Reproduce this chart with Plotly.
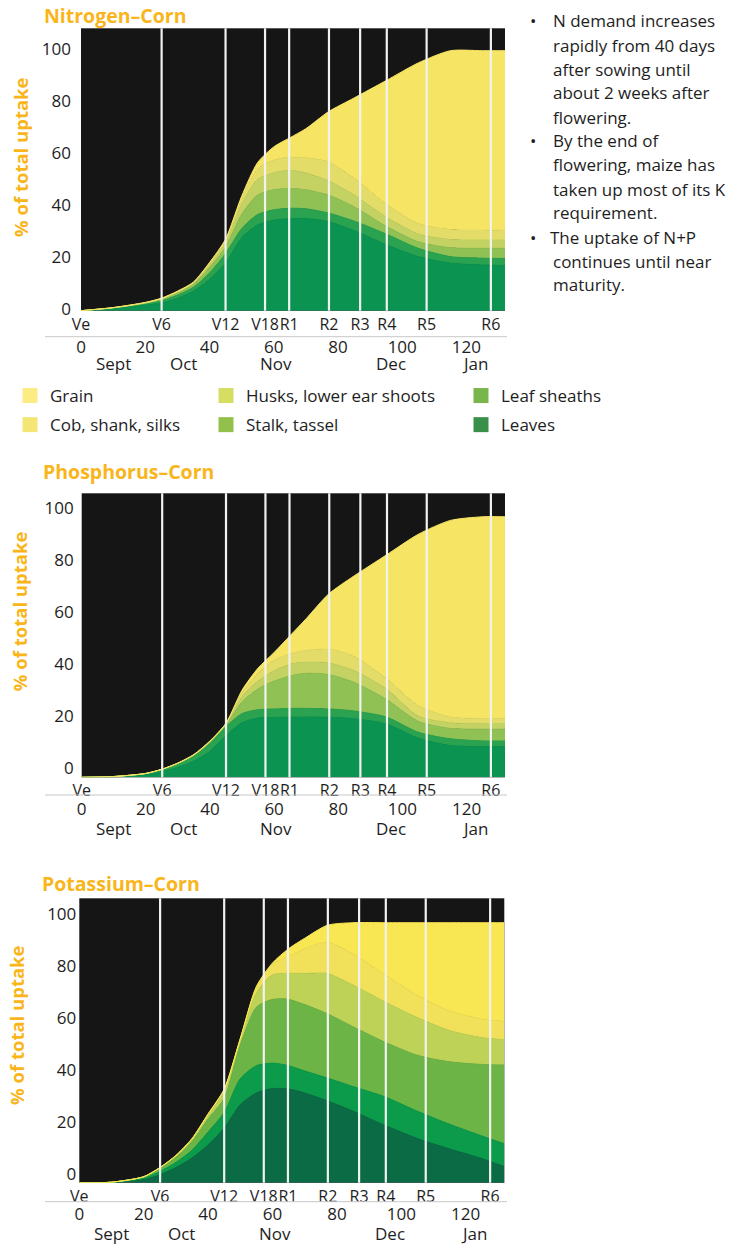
import plotly.graph_objects as go

W, H = 741, 1245
FONT = "Open Sans"
ORANGE = "#F9B51A"
TXT = "#1e1e1e"

# ---------------- data ----------------
days = [0, 10, 20, 25, 30, 35, 40, 45, 50, 55, 60, 65, 70, 77, 85, 95, 105, 115, 125, 132]

organs = ["Leaves", "Leaf sheaths", "Stalk, tassel",
          "Husks, lower ear shoots", "Cob, shank, silks", "Grain"]

# Nitrogen: % of total uptake held in each organ
n_leaves  = [0, 0.8, 2.2, 3.0, 4.8, 7.5, 12, 18.3, 28, 33, 34.8, 35.4, 35.5, 34.3, 30.8, 25.4, 20.8, 18.3, 17.6, 17.4]
n_sheaths = [0, 0.2, 0.5, 0.8, 1.2, 1.5, 2.5, 3.7, 3.5, 4.0, 4.0, 4.0, 3.7, 3.3, 3.7, 4.1, 3.2, 2.5, 2.6, 2.7]
n_stalk   = [0, 0.1, 0.2, 0.5, 0.8, 1.0, 2.0, 2.5, 5.5, 7.5, 7.7, 7.6, 7.3, 6.9, 5.5, 3.0, 2.5, 3.4, 3.8, 3.9]
n_husks   = [0, 0.05, 0.1, 0.2, 0.3, 0.5, 1.0, 1.5, 4.0, 6.0, 6.5, 7.0, 6.5, 5.5, 4.5, 3.5, 3.0, 3.2, 3.2, 3.2]
n_cob     = [0, 0.05, 0.1, 0.2, 0.2, 0.3, 0.7, 1.0, 2.0, 4.0, 5.0, 5.0, 5.8, 7.3, 6.5, 5.0, 4.0, 3.8, 3.8, 3.8]
n_grain   = [0, 0, 0.1, 0.1, 0.2, 0.2, 0.3, 0.5, 1.0, 2.5, 5.0, 7.5, 11.2, 19.2, 30.8, 47.5, 61.8, 68.8, 69, 69]

# Phosphorus
p_leaves  = [0, 0.2, 1.0, 2.2, 3.8, 6.3, 10, 16, 21, 22.8, 23, 23.1, 23.2, 23.1, 22.5, 20.5, 15, 12.2, 11.8, 11.8]
p_sheaths = [0, 0.1, 0.4, 0.8, 1.4, 2.0, 3.0, 3.5, 3.5, 3.2, 3.3, 3.4, 3.3, 3.2, 3.0, 2.7, 2.3, 2.6, 2.2, 2.2]
p_stalk   = [0, 0, 0.05, 0.05, 0.15, 0.2, 0.5, 0.7, 4.5, 8, 10.7, 12.5, 13.5, 13.2, 11, 6.8, 4.2, 4.0, 4.5, 4.5]
p_husks   = [0, 0, 0.03, 0.03, 0.05, 0.1, 0.2, 0.3, 2.0, 3.0, 4.0, 4.5, 4.3, 4.5, 4.5, 4.0, 2.0, 2.2, 2.2, 2.2]
p_cob     = [0, 0, 0.02, 0.02, 0.05, 0.1, 0.2, 0.2, 1.5, 3.0, 4.0, 4.0, 4.5, 5.3, 5.5, 4.0, 4.0, 2.2, 1.9, 1.8]
p_grain   = [0, 0, 0, 0, 0.05, 0.1, 0.1, 0.1, 1.0, 2.0, 3.0, 7.0, 12.2, 21.2, 31, 47.5, 66, 75.6, 77.6, 77.7]

# Potassium
k_leaves  = [0, 0.1, 1.2, 3.0, 5.8, 9.5, 14.5, 21, 30, 34.5, 36.2, 36, 34.5, 31.5, 27.5, 22, 17, 13, 9.3, 6.2]
k_sheaths = [0, 0.05, 0.5, 1.3, 2.0, 3.0, 5.0, 6.0, 10, 10.5, 9.8, 9.0, 8.5, 8.8, 9.5, 11, 10.5, 9.5, 8.7, 8.8]
k_stalk   = [0, 0.05, 0.5, 1.1, 1.9, 3.3, 5.0, 5.5, 13, 22.5, 24.5, 25.5, 25.5, 24.7, 23, 21, 21.5, 24, 27.5, 30.3]
k_husks   = [0, 0, 0.1, 0.3, 0.6, 0.8, 1.3, 2.8, 2.0, 5.5, 9.5, 10, 12, 15.5, 16, 15.5, 14.5, 12, 10.3, 9.7]
k_cob     = [0, 0, 0, 0.1, 0.1, 0.3, 0.5, 0.5, 0.3, 2.0, 4.0, 6.5, 9.5, 12, 12, 10.5, 8.5, 7.5, 7.2, 7]
k_grain   = [0, 0, 0, 0, 0.1, 0.1, 0.2, 0.2, 0.2, 0.5, 0.5, 3.0, 4.0, 6.5, 12, 20, 28, 34, 37, 38]

stage_names = ["Ve", "V6", "V12", "V18", "R1", "R2", "R3", "R4", "R5", "R6"]
stage_days = [0, 25.1, 45.0, 57.3, 64.8, 77.2, 86.9, 95.2, 107.6, 127.6]

day_ticks = [0, 20, 40, 60, 80, 100, 120]
month_names = ["Sept", "Oct", "Nov", "Dec", "Jan"]
month_days = [10, 31.8, 60.7, 96.5, 122.7]
y_ticks = [0, 20, 40, 60, 80, 100]

legend_cols = [
    ["Grain", "Cob, shank, silks"],
    ["Husks, lower ear shoots", "Stalk, tassel"],
    ["Leaf sheaths", "Leaves"],
]
legend_colors = {
    "Grain": "#fcec84", "Cob, shank, silks": "#f3e674",
    "Husks, lower ear shoots": "#d5dd63", "Stalk, tassel": "#93bf4b",
    "Leaf sheaths": "#78b54b", "Leaves": "#3a8f4b",
}

bullets = [
    ["N demand increases", "rapidly from 40 days", "after sowing until",
     "about 2 weeks after", "flowering."],
    ["By the end of", "flowering, maize has", "taken up most of its K",
     "requirement."],
    ["The uptake of N+P", "continues until near", "maturity."],
]

NP_COLORS = ["#0b9352", "#2aa24f", "#8fc155", "#c3d262", "#e4dc68", "#f6e565"]
K_COLORS = ["#0b6b45", "#0c9a4b", "#6cb446", "#bed257", "#f1e05a", "#f9e653"]

charts = [
    dict(title="Nitrogen–Corn",
         vals=[n_leaves, n_sheaths, n_stalk, n_husks, n_cob, n_grain],
         colors=NP_COLORS, box=(81, 505, 28.3, 310.7), shift=-2, ystand=9,
         rule=336.7, numpos=335, month_y=363, title_xy=(45, 15), ytitle_xy=(21, 157)),
    dict(title="Phosphorus–Corn",
         vals=[p_leaves, p_sheaths, p_stalk, p_husks, p_cob, p_grain],
         colors=NP_COLORS, box=(81.7, 505, 493.3, 777.3), shift=-9, ystand=7,
         rule=795, numpos=797, month_y=828.3, title_xy=(44, 471.7), ytitle_xy=(19.5, 611.7)),
    dict(title="Potassium–Corn",
         vals=[k_leaves, k_sheaths, k_stalk, k_husks, k_cob, k_grain],
         colors=K_COLORS, box=(79.3, 504.3, 898.3, 1182.7), shift=-9, ystand=2,
         rule=1201.7, numpos=1202, month_y=1233.3, title_xy=(43, 883.3), ytitle_xy=(16, 1025)),
]

PXU = 2.6  # pixels per % unit

fig = go.Figure()
layout = dict(width=W, height=H,
              margin=dict(l=0, r=0, t=0, b=0, pad=0, autoexpand=False),
              paper_bgcolor="white", plot_bgcolor="#151515",
              font=dict(family=FONT, color=TXT, size=17),
              showlegend=True)
shapes = []
annotations = []
tickfont = dict(family=FONT, size=17, color=TXT)
stagefont = dict(family=FONT, size=16, color=TXT)

for i, ch in enumerate(charts, start=1):
    sx = "" if i == 1 else str(i)
    xa, ya = "x" + sx, "y" + sx
    x0, x1, y0, y1 = ch["box"]
    ymax = (y1 - y0) / PXU
    for organ, vals, color in zip(organs, ch["vals"], ch["colors"]):
        fig.add_trace(go.Scatter(
            x=days, y=vals, xaxis=xa, yaxis=ya, stackgroup="s" + str(i),
            mode="lines", name=organ, showlegend=False, hoverinfo="skip",
            line=dict(width=1, shape="spline", smoothing=0.7, color=color),
            fillcolor=color))
    layout["xaxis" + sx] = dict(
        domain=[x0 / W, x1 / W], range=[0, 132], anchor=ya, automargin=False,
        tickmode="array", tickvals=stage_days, ticktext=stage_names,
        tickangle=0, ticks="", showgrid=False, zeroline=False, showline=False,
        tickfont=stagefont, ticklabelstandoff=2)
    layout["yaxis" + sx] = dict(
        domain=[1 - y1 / H, 1 - y0 / H], range=[0, ymax], anchor=xa,
        automargin=False, tickmode="array", tickvals=y_ticks, ticks="",
        showgrid=False, zeroline=False, showline=False, tickfont=tickfont,
        ticklabelshift=ch["shift"], ticklabelstandoff=ch["ystand"])
    # numeric day axis below the stage labels
    nx = str(i + 3)
    layout["xaxis" + nx] = dict(
        overlaying=xa, anchor="free", position=1 - ch["numpos"] / H,
        side="bottom", range=[0, 132], tickmode="array", tickvals=day_ticks,
        tickangle=0, ticks="", showgrid=False, zeroline=False, showline=False,
        automargin=False, tickfont=tickfont)
    fig.add_trace(go.Scatter(x=[None], y=[None], xaxis="x" + nx, yaxis=ya,
                             showlegend=False, hoverinfo="skip"))
    # stage lines
    for d in stage_days[1:]:
        shapes.append(dict(type="line", xref=xa, yref=ya + " domain",
                           x0=d, x1=d, y0=0, y1=1, layer="above",
                           line=dict(color="#f2f2f2", width=2.2)))
    shapes.append(dict(type="line", xref="paper", yref="paper",
                       x0=45 / W, x1=507 / W, y0=1 - ch["rule"] / H, y1=1 - ch["rule"] / H,
                       line=dict(color="#c8c8c8", width=1)))
    for name, d in zip(month_names, month_days):
        annotations.append(dict(x=d, xref=xa, y=1 - ch["month_y"] / H, yref="paper",
                                text=name, showarrow=False, font=tickfont,
                                xanchor="center", yanchor="middle"))
    tx, ty = ch["title_xy"]
    annotations.append(dict(x=(tx - 3) / W, y=1 - ty / H, xref="paper", yref="paper",
                            text="<b>" + ch["title"] + "</b>", showarrow=False,
                            xanchor="left", yanchor="middle",
                            font=dict(family=FONT, size=19.5, color=ORANGE)))
    yx, yy = ch["ytitle_xy"]
    annotations.append(dict(x=yx / W, y=1 - yy / H, xref="paper", yref="paper",
                            text="<b>% of total uptake</b>", textangle=-90,
                            showarrow=False, xanchor="center", yanchor="middle",
                            font=dict(family=FONT, size=18.5, color=ORANGE)))

# legend: three small legends, one per column
leg_x = [10, 206, 461]
for c, (names, lx) in enumerate(zip(legend_cols, leg_x)):
    lkey = "legend" if c == 0 else "legend" + str(c + 1)
    for nm in names:
        fig.add_trace(go.Scatter(
            x=[None], y=[None], mode="markers", name=nm, legend=lkey,
            legendgroup=nm,
            marker=dict(symbol="square", size=15, color=legend_colors[nm]),
            hoverinfo="skip", showlegend=True))
    layout[lkey] = dict(x=lx / W, y=1 - 378 / H, xanchor="left", yanchor="top",
                        bgcolor="rgba(0,0,0,0)", tracegroupgap=4,
                        traceorder="grouped",
                        font=dict(family=FONT, size=17, color=TXT),
                        itemclick=False, itemdoubleclick=False)

# bullet notes
line_no = 0
for bi, b in enumerate(bullets):
    for j, txt in enumerate(b):
        yc = 21 + 24 * line_no
        if j == 0:
            annotations.append(dict(x=533 / W, y=1 - yc / H, xref="paper", yref="paper",
                                    text="•", showarrow=False, xanchor="center",
                                    yanchor="middle", font=dict(family=FONT, size=17, color=TXT)))
        tx = 548 if (bi == 2 and j == 0) else 551
        annotations.append(dict(x=tx / W, y=1 - yc / H, xref="paper", yref="paper",
                                text=txt, showarrow=False, xanchor="left",
                                yanchor="middle",
                                font=dict(family=FONT, size=17, color=TXT)))
        line_no += 1

layout["shapes"] = shapes
layout["annotations"] = annotations
fig.update_layout(**layout)
fig.write_html("out.html",
               config={"displayModeBar": False, "staticPlot": True},
               post_script="document.body.style.margin='0px';"
                           "document.body.style.overflow='hidden';")
